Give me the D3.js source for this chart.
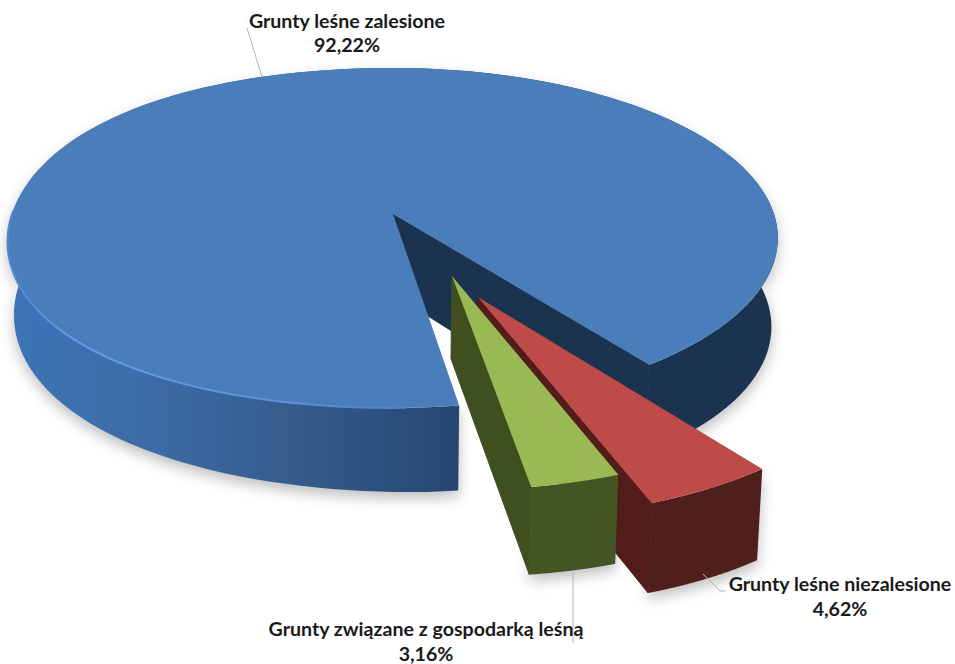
<!DOCTYPE html>
<html>
<head>
<meta charset="utf-8">
<script src="https://cdn.jsdelivr.net/npm/d3@7"></script>
<style>
  html, body { margin: 0; background: #fff; }
  text { font-family: Lato, "Open Sans", sans-serif; font-weight: 700; fill: #1a1a1a; }
</style>
</head>
<body>
<svg id="chart" width="955" height="664"></svg>
<script>
const categories = ["Grunty leśne zalesione", "Grunty leśne niezalesione", "Grunty związane z gospodarką leśną"];
const shares = [92.22, 4.62, 3.16];

const WIDTH = 955;
const HEIGHT = 664;
const FONTSIZE = 19.6;

// perspective of the pie plane
const CX = 393, CY = 214, RX = 381, RY = 166.6, TILT = 0.141;
const START_ANGLE = 171.4 * Math.PI / 180;

// slice styles and offset of each slice in the pie plane (1 = pie radius)
const topColors = ["#4a7ebb", "#be4b48", "#98b954"];
const cutColors = ["#1c3350", "#521c1a", "#3f4f20"];
const wallColors = ["url(#blueWall)", "#4f1f1c", "#445524"];
const radii = [1, 0.988, 0.988];
const offsets = [[0, 0], [0.208, 0.4655], [0.147, 0.354]];

// label centre, line baselines, leader line
const labelPos = [
  { x: 347, y: [28, 52], leader: [[247, 28], [262, 77]] },
  { x: 840, y: [591, 616], leader: [[703, 574], [720, 591], [726, 591]] },
  { x: 426, y: [636, 661], leader: [[573, 572], [573, 643]] }
];

function project(x, y) {
  let p = 1 / (1 - TILT * y);
  return { x: CX + RX * x * p, y: CY + RY * y * p, px: x, py: y };
}

// same plan point on the lower edge of the pie
function lower(pt) {
  return { x: pt.x - 6.5 * pt.px, y: pt.y + 80 + 8 * pt.px + 4 * pt.py };
}

function rim(i, a) {
  let r = radii[i];
  // the left half of the big slice is a little fuller than a true ellipse
  if (i == 0 && Math.sin(a) < 0) r += 0.018 * Math.pow(Math.sin(2 * a), 2);
  return project(offsets[i][0] + r * Math.sin(a), offsets[i][1] - r * Math.cos(a));
}

const line = d3.line().x(d => d.x).y(d => d.y);
const closed = d3.line().x(d => d.x).y(d => d.y).curve(d3.curveLinearClosed);

const svg = d3.select("#chart").attr("viewBox", [0, 0, WIDTH, HEIGHT]);
const defs = svg.append("defs");

defs.append("filter").attr("id", "soft")
  .attr("x", "-10%").attr("y", "-10%").attr("width", "120%").attr("height", "120%")
  .append("feGaussianBlur").attr("stdDeviation", 7);

const blueWall = defs.append("linearGradient").attr("id", "blueWall")
  .attr("gradientUnits", "userSpaceOnUse")
  .attr("x1", 8).attr("x2", 640).attr("y1", 0).attr("y2", 0);
[[0, "#3c74b6"], [0.2, "#3d6da8"], [0.45, "#355c8c"], [0.72, "#254670"], [0.73, "#1c3350"], [1, "#1c3350"]]
  .forEach(s => blueWall.append("stop").attr("offset", s[0]).attr("stop-color", s[1]));

const rimGlow = defs.append("linearGradient").attr("id", "rimGlow")
  .attr("gradientUnits", "userSpaceOnUse")
  .attr("x1", 10).attr("x2", 440).attr("y1", 0).attr("y2", 0);
[[0, "#4f8ad0"], [0.15, "#5f9de6"], [0.6, "#5a95dc"], [1, "#4a7ebb"]]
  .forEach(s => rimGlow.append("stop").attr("offset", s[0]).attr("stop-color", s[1]));

const arcs = d3.pie().sort(null)
  .startAngle(START_ANGLE).endAngle(START_ANGLE + 2 * Math.PI)(shares);

const shapes = arcs.map((d, i) => {
  let arcTop = d3.range(161).map(k => rim(i, d.startAngle + (d.endAngle - d.startAngle) * k / 160));
  let apex = project(offsets[i][0], offsets[i][1]);
  let end = arcTop[arcTop.length - 1];
  return {
    top: [apex, ...arcTop],
    wall: [...arcTop, ...arcTop.map(lower).reverse()],
    cut: [apex, end, lower(end), lower(apex)]
  };
});

// soft shadow under the whole pie
const shadow = svg.append("g")
  .attr("filter", "url(#soft)")
  .attr("transform", "translate(0,6)")
  .attr("opacity", 0.38)
  .attr("fill", "#555");
shapes.forEach(s => {
  shadow.append("path").attr("d", closed(s.wall));
});

const slices = svg.append("g").selectAll("g")
  .data(shapes)
  .join("g");

slices.append("path").attr("d", d => closed(d.cut))
  .attr("fill", (d, i) => cutColors[i])
  .attr("stroke", (d, i) => cutColors[i]);
slices.append("path").attr("d", d => closed(d.wall)).attr("fill", (d, i) => wallColors[i]);
slices.append("path").attr("d", d => closed(d.top)).attr("fill", (d, i) => topColors[i]);

// light rim along the front left edge of the big slice
const glowArc = d3.range(81).map(k => rim(0, arcs[0].startAngle + 0.12 + (1.62 * k) / 80));
svg.append("path")
  .attr("d", line(glowArc))
  .attr("fill", "none")
  .attr("stroke", "url(#rimGlow)")
  .attr("stroke-width", 2);

// leader lines
svg.append("g").selectAll("path")
  .data(labelPos)
  .join("path")
  .attr("d", d => d3.line()(d.leader))
  .attr("fill", "none")
  .attr("stroke", "#b5b5b5")
  .attr("stroke-width", 1);

// labels
const labels = svg.append("g").selectAll("g")
  .data(categories)
  .join("g");
labels.append("text")
  .attr("x", (d, i) => labelPos[i].x)
  .attr("y", (d, i) => labelPos[i].y[0])
  .attr("text-anchor", "middle")
  .attr("font-size", FONTSIZE)
  .text(d => d);
labels.append("text")
  .attr("x", (d, i) => labelPos[i].x)
  .attr("y", (d, i) => labelPos[i].y[1])
  .attr("text-anchor", "middle")
  .attr("font-size", FONTSIZE)
  .text((d, i) => shares[i].toFixed(2).replace(".", ",") + "%");
</script>
</body>
</html>
